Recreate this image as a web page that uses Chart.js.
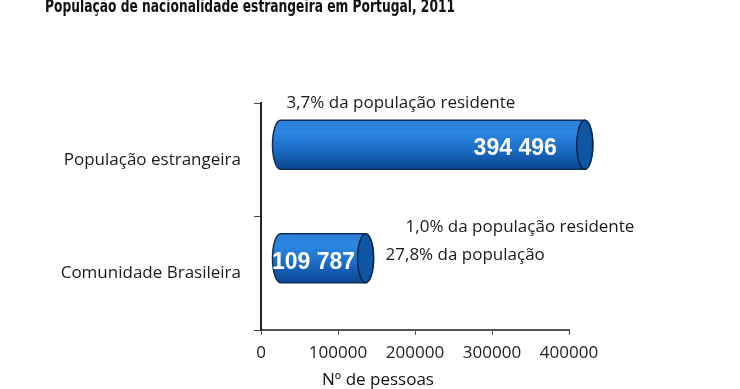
<!DOCTYPE html>
<html>
<head>
<meta charset="utf-8">
<script src="https://cdn.jsdelivr.net/npm/chart.js@4.4.1/dist/chart.umd.min.js"></script>
<style>
  html, body { margin: 0; padding: 0; background: #fff; }
  #wrap { width: 740px; height: 389px; }
</style>
</head>
<body>
<div id="wrap"><canvas id="bars" width="740" height="389"></canvas></div>
<script>
// data
const categories = ['População estrangeira', 'Comunidade Brasileira'];
const people = [394496, 109787];
const barLabels = ['394 496', '109 787'];
const notes = [
  ['3,7% da população residente'],
  ['1,0% da população residente', '27,8% da população'],
];
const xTicks = [0, 100000, 200000, 300000, 400000];
const chartTitle = 'População de nacionalidade estrangeira em Portugal, 2011';
const xTitle = 'Nº de pessoas';

const labelFont = '"Open Sans", "Noto Sans", sans-serif';

// draws the 3d-ish cylinders + texts on top of the (invisible) bars
const cylinderPlugin = {
  id: 'cylinders',
  afterDatasetsDraw(chart) {
    const ctx = chart.ctx;
    const meta = chart.getDatasetMeta(0);
    meta.data.forEach((el, i) => {
      const cy = el.y - 15;
      const ry = el.height / 2;
      const rx = 8;
      const L = el.base + 19;
      const R = el.x + 20;
      const top = cy - ry, bot = cy + ry;

      ctx.save();
      const g = ctx.createLinearGradient(0, top, 0, bot);
      g.addColorStop(0, '#2c7fd6');
      g.addColorStop(0.25, '#2a87e2');
      g.addColorStop(0.6, '#1b6cc6');
      g.addColorStop(1, '#0b4590');
      ctx.beginPath();
      ctx.ellipse(L, cy, rx, ry, 0, Math.PI / 2, Math.PI * 1.5);
      ctx.lineTo(R, top);
      ctx.ellipse(R, cy, rx, ry, 0, -Math.PI / 2, Math.PI / 2);
      ctx.closePath();
      ctx.fillStyle = g;
      ctx.fill();
      ctx.lineWidth = 1.5;
      ctx.strokeStyle = '#0c2f5c';
      ctx.stroke();

      // end cap
      ctx.beginPath();
      ctx.ellipse(R, cy, rx, ry, 0, 0, Math.PI * 2);
      ctx.fillStyle = '#0f56a3';
      ctx.fill();
      ctx.strokeStyle = '#0a2547';
      ctx.stroke();

      // value text
      ctx.fillStyle = '#ffffff';
      ctx.font = 'bold 23px "Liberation Sans", Arial, sans-serif';
      ctx.textBaseline = 'middle';
      if (el.x - el.base > 150) {
        ctx.textAlign = 'right';
        ctx.fillText(barLabels[i], el.x - 8, cy + 4);
      } else {
        ctx.textAlign = 'center';
        ctx.fillText(barLabels[i], (el.base + el.x) / 2 + 10, cy + 4);
      }

      // notes
      ctx.fillStyle = '#1a1a1a';
      ctx.font = '17px ' + labelFont;
      ctx.textAlign = 'left';
      const n = notes[i];
      if (n.length === 1) {
        ctx.fillText(n[0], el.base + 25, top - 17);
      } else {
        ctx.fillText(n[0], el.x + 60, top - 7);
        ctx.fillText(n[1], el.x + 40, cy - 3);
      }
      ctx.restore();
    });

    // title + x title
    ctx.save();
    ctx.fillStyle = '#111';
    ctx.textBaseline = 'middle';
    ctx.textAlign = 'center';
    ctx.font = 'bold 17px "DejaVu Sans Condensed", "DejaVu Sans", sans-serif';
    ctx.fillText(chartTitle, 250, 8, 410);
    ctx.font = '17px ' + labelFont;
    ctx.fillText(xTitle, 378, 380);
    ctx.restore();
  }
};

new Chart(document.getElementById('bars'), {
  type: 'bar',
  data: {
    labels: categories,
    datasets: [{
      data: people,
      backgroundColor: 'rgba(0,0,0,0)',
      borderWidth: 0,
      barPercentage: 0.43,
      categoryPercentage: 1,
    }],
  },
  options: {
    indexAxis: 'y',
    responsive: false,
    animation: false,
    layout: { padding: { top: 103, right: 171, bottom: 0, left: 0 } },
    plugins: {
      legend: { display: false },
      tooltip: { enabled: false },
    },
    scales: {
      x: {
        min: 0,
        max: 400000,
        afterBuildTicks(axis) { axis.ticks = xTicks.map(v => ({ value: v })); },
        afterFit(axis) { axis.height = 59; },
        grid: { drawOnChartArea: false, tickLength: 5, color: '#555', lineWidth: 1 },
        border: { color: '#555', width: 2 },
        ticks: {
          color: '#222',
          font: { family: labelFont, size: 17 },
          padding: 8,
          maxRotation: 0,
          autoSkip: false,
          callback: v => String(v),
        },
      },
      y: {
        afterFit(axis) { axis.width = 261; },
        grid: { drawOnChartArea: false, offset: true, tickLength: 7, color: '#444', lineWidth: 1 },
        border: { color: '#222', width: 2 },
        ticks: {
          color: '#1a1a1a',
          font: { family: labelFont, size: 17 },
          padding: 13,
        },
      },
    },
  },
  plugins: [cylinderPlugin],
});
</script>
</body>
</html>
